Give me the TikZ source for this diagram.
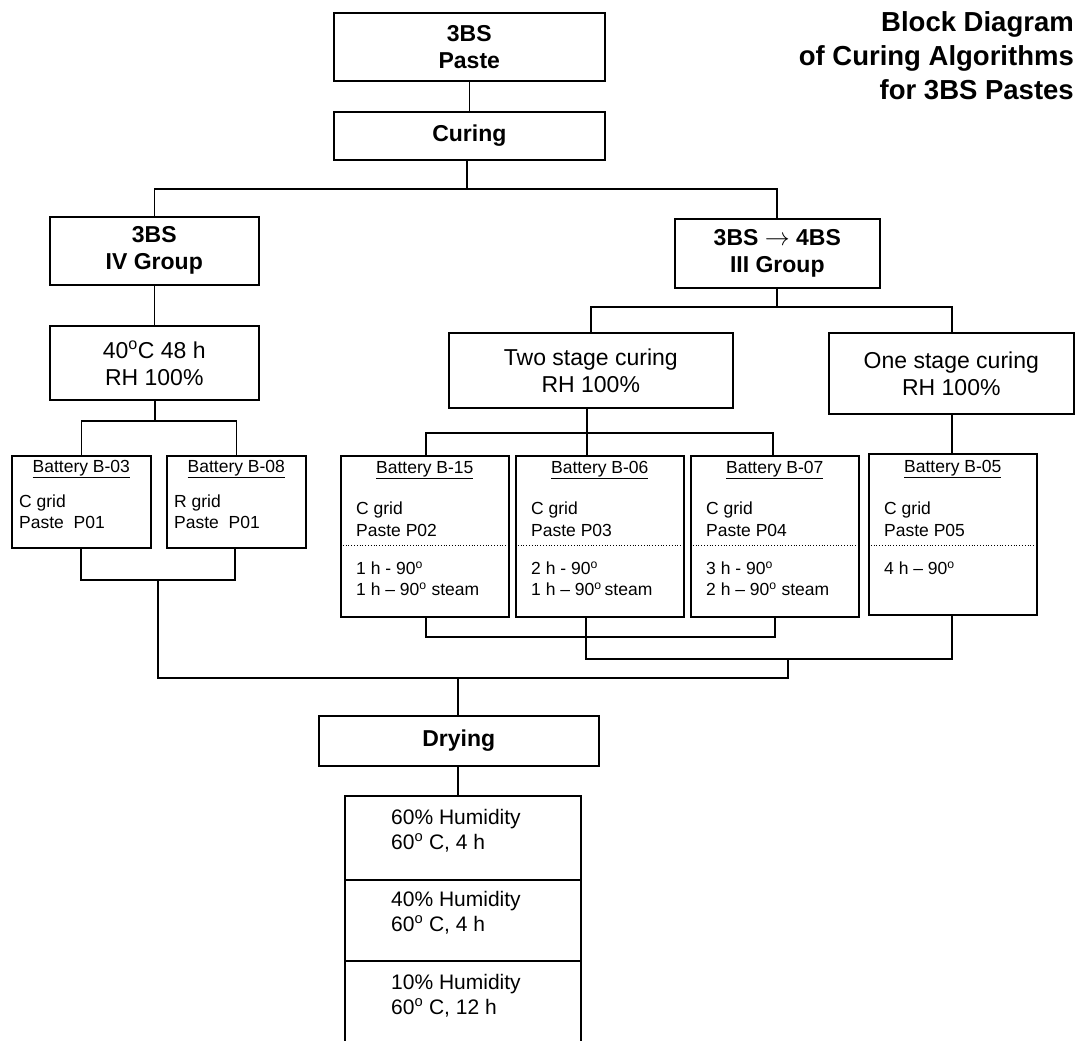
\documentclass[tikz,border=0pt]{standalone}
\usepackage{fontspec}
\setmainfont{Liberation Sans}
\begin{document}
\begin{tikzpicture}[x=1pt,y=-1pt,
  box/.style={draw,line width=1.6pt,rectangle,anchor=north west,inner sep=0pt},
  ln/.style={line width=1.4pt},
  bt/.style={font=\fontsize{23}{27}\selectfont\bfseries,align=center},
  nt/.style={font=\fontsize{23}{27}\selectfont,align=center},
  bat/.style={font=\fontsize{17.5}{20}\selectfont,align=left,anchor=west,inner sep=0pt},
  battitle/.style={font=\fontsize{17.5}{20}\selectfont,inner sep=0pt},
  dry/.style={font=\fontsize{21}{24}\selectfont,align=left,anchor=west,inner sep=0pt},
  dots/.style={line width=0.8pt,dotted}]
\clip (0,0) rectangle (1076,1041);
\fill[white] (0,0) rectangle (1076,1041);
% title
\node[anchor=north east,align=right,inner sep=0pt,font=\fontsize{27.5}{34}\selectfont\bfseries] (title) at (1074,11) {Block Diagram\\of Curing Algorithms\\for 3BS Pastes};
% top boxes
\node[box,minimum width=271pt,minimum height=68pt] (paste) at (333,12) {};
\node[bt] at (paste.center) {3BS\\Paste};
\node[box,minimum width=271pt,minimum height=48pt] (curing) at (333,111) {};
\node[bt] at (curing.center) {Curing};
\node[box,minimum width=209pt,minimum height=68pt] (g4) at (49,216) {};
\node[bt] at (g4.center) {3BS\\IV Group};
\node[box,minimum width=205pt,minimum height=69pt] (g3) at (674,218) {};
\node[bt] at (g3.center) {3BS $\rightarrow$ 4BS\\III Group};
\node[box,minimum width=209pt,minimum height=74pt] (c40) at (49,325) {};
\node[nt] at (c40.center) {40\textsuperscript{o}C 48 h\\RH 100\%};
\node[box,minimum width=284pt,minimum height=75pt] (two) at (448,332) {};
\node[nt] at (two.center) {Two stage curing\\RH 100\%};
\node[box,minimum width=245pt,minimum height=81pt] (one) at (828,332) {};
\node[nt] at (one.center) {One stage curing\\RH 100\%};
% batteries left
\node[box,minimum width=139pt,minimum height=92pt] (b03) at (11,455) {};
\node[battitle] at (b03.center |- 0,469) {\underline{Battery B-03}};
\node[bat] at (19,503) {C grid};
\node[bat] at (19,522) {Paste\ \ P01};
\node[box,minimum width=139pt,minimum height=92pt] (b08) at (166,455) {};
\node[battitle] at (b08.center |- 0,469) {\underline{Battery B-08}};
\node[bat] at (174,503) {R grid};
\node[bat] at (174,522) {Paste\ \ P01};
% batteries right
\node[box,minimum width=168pt,minimum height=161pt] (b15) at (340,455) {};
\node[battitle] at (b15.center |- 0,470) {\underline{Battery B-15}};
\node[bat] at (356,510) {C grid};
\node[bat] at (356,530) {Paste P02};
\node[bat] at (356,568) {1 h - 90\textsuperscript{o}};
\node[bat] at (356,589) {1 h -- 90\textsuperscript{o} steam};
\node[box,minimum width=168pt,minimum height=161pt] (b06) at (515,455) {};
\node[battitle] at (b06.center |- 0,470) {\underline{Battery B-06}};
\node[bat] at (531,510) {C grid};
\node[bat] at (531,530) {Paste P03};
\node[bat] at (531,568) {2 h - 90\textsuperscript{o}};
\node[bat] at (531,589) {1 h -- 90\textsuperscript{o}\,steam};
\node[box,minimum width=168pt,minimum height=161pt] (b07) at (690,455) {};
\node[battitle] at (b07.center |- 0,470) {\underline{Battery B-07}};
\node[bat] at (706,510) {C grid};
\node[bat] at (706,530) {Paste P04};
\node[bat] at (706,568) {3 h - 90\textsuperscript{o}};
\node[bat] at (706,589) {2 h -- 90\textsuperscript{o} steam};
\node[box,minimum width=168pt,minimum height=161pt] (b05) at (868,453) {};
\node[battitle] at (b05.center |- 0,469) {\underline{Battery B-05}};
\node[bat] at (884,510) {C grid};
\node[bat] at (884,530) {Paste P05};
\node[bat] at (884,568) {4 h -- 90\textsuperscript{o}};
\foreach \b in {b15,b06,b07} \draw[dots] (\b.west |- 0,545) -- (\b.east |- 0,545);
\draw[dots] (b05.west |- 0,545) -- (b05.east |- 0,545);
% drying
\node[box,minimum width=280pt,minimum height=50pt] (drying) at (318,715) {};
\node[bt] at (drying.center) {Drying};
\node[box,minimum width=236pt,minimum height=84pt] (s1) at (344,795) {};
\node[box,minimum width=236pt,minimum height=81pt] (s2) at (344,879) {};
\node[box,minimum width=236pt,minimum height=90pt] (s3) at (344,960) {};
\node[dry] at (391,819) {60\% Humidity};
\node[dry] at (391,843) {60\textsuperscript{o} C, 4 h};
\node[dry] at (391,901) {40\% Humidity};
\node[dry] at (391,925) {60\textsuperscript{o} C, 4 h};
\node[dry] at (391,984) {10\% Humidity};
\node[dry] at (391,1008) {60\textsuperscript{o} C, 12 h};
% junction coordinates
\coordinate (j1) at (467,189);
\coordinate (j2) at (155,421);
\coordinate (j3) at (777,307);
\coordinate (j4) at (587,433);
\coordinate (j5) at (158,580);
\coordinate (j6) at (586,637);
\coordinate (j7) at (788,659);
\coordinate (j8) at (458,678);
% connectors
\draw[ln] (paste.south) -- (curing.north);
\draw[ln] (curing.south -| j1) -- (j1);
\draw[ln] (g4.north) |- (j1) -| (g3.north -| j3);
\draw[ln] (g4.south) -- (c40.north);
\draw[ln] (c40.south -| j2) -- (j2);
\draw[ln] (b03.north) |- (j2) -| (b08.north);
\draw[ln] (g3.south -| j3) -- (j3);
\draw[ln] (two.north -| 591,0) |- (j3) -| (one.north -| 952,0);
\draw[ln] (two.south -| j4) -- (j4);
\draw[ln] (b15.north -| 426,0) |- (j4) -| (b07.north -| 773,0);
\draw[ln] (j4) -- (b06.north -| j4);
\draw[ln] (one.south -| 952,0) -- (b05.north -| 952,0);
\draw[ln] (b03.south -| 81,0) |- (j5) -| (b08.south -| 235,0);
\draw[ln] (b15.south -| 426,0) |- (j6) -| (b07.south -| 775,0);
\draw[ln] (b06.south -| j6) |- (j7) -| (b05.south -| 952,0);
\draw[ln] (j5) |- (j8) -| (j7);
\draw[ln] (j8) -- (drying.north -| j8);
\draw[ln] (drying.south -| j8) -- (s1.north -| j8);
\end{tikzpicture}
\end{document}
